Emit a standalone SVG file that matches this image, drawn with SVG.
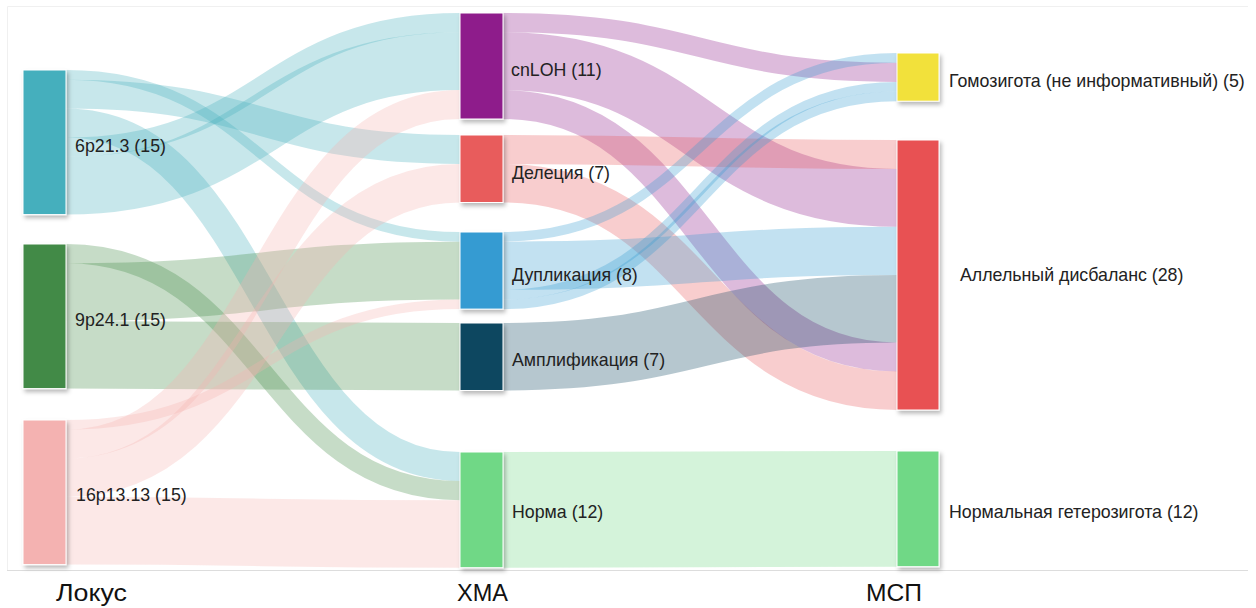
<svg xmlns="http://www.w3.org/2000/svg" width="1256" height="608" viewBox="0 0 1256 608">
<style>
.lnk{fill:none;stroke-opacity:0.3}
.t{stroke:#45AFBD}.g{stroke:#438A46}.p{stroke:#F4B2B1}
.pu{stroke:#8E1F8B}.r{stroke:#E85B5C}.b{stroke:#369BD2}.n{stroke:#0E4760}.gr{stroke:#6FD886}
.node{stroke:#ffffff;stroke-width:1;filter:url(#sh)}
.lbl{font-family:"Liberation Sans",Arial,sans-serif;font-size:17.8px;fill:#222}
.ax{font-family:"Liberation Sans",Arial,sans-serif;font-size:24px;fill:#111}
</style>
<defs>
<filter id="sh" x="-30%" y="-10%" width="170%" height="130%">
<feDropShadow dx="2" dy="3" stdDeviation="2" flood-color="#000" flood-opacity="0.28"/>
</filter>
</defs>
<rect width="1256" height="608" fill="#fff"/>
<g id="frame" stroke-width="1" fill="none">
<path d="M7.5 570.5V6.5H1248" stroke="#f0f0f0"/>
<path d="M7 570.5H1248" stroke="#dddddd"/>
</g>
<g id="connectors">
<path class="lnk t" stroke-width="9.64" d="M66 74.82C263 74.82 263 236.82 460 236.82"/>
<path class="lnk t" stroke-width="28.92" d="M66 94.1C263 94.1 263 149.46 460 149.46"/>
<path class="lnk t" stroke-width="28.92" d="M66 123.02C263 123.02 263 466.46 460 466.46"/>
<path class="lnk t" stroke-width="19.28" d="M66 147.12C263 147.12 263 22.64 460 22.64"/>
<path class="lnk t" stroke-width="57.84" d="M66 185.68C263 185.68 263 61.2 460 61.2"/>
<path class="lnk g" stroke-width="19.28" d="M66 253.64C263 253.64 263 490.56 460 490.56"/>
<path class="lnk g" stroke-width="57.84" d="M66 292.2C263 292.2 263 270.56 460 270.56"/>
<path class="lnk g" stroke-width="67.48" d="M66 354.86C263 354.86 263 356.74 460 356.74"/>
<path class="lnk p" stroke-width="9.64" d="M66 424.82C263 424.82 263 304.3 460 304.3"/>
<path class="lnk p" stroke-width="28.92" d="M66 444.1C263 444.1 263 104.58 460 104.58"/>
<path class="lnk p" stroke-width="38.56" d="M66 477.84C263 477.84 263 183.2 460 183.2"/>
<path class="lnk p" stroke-width="67.48" d="M66 530.86C263 530.86 263 533.94 460 533.94"/>
<path class="lnk pu" stroke-width="19.28" d="M503 22.64C700 22.64 700 72.28 897 72.28"/>
<path class="lnk pu" stroke-width="57.84" d="M503 61.2C700 61.2 700 197.84 897 197.84"/>
<path class="lnk pu" stroke-width="28.92" d="M503 104.58C700 104.58 700 356.94 897 356.94"/>
<path class="lnk r" stroke-width="28.92" d="M503 149.46C700 149.46 700 154.46 897 154.46"/>
<path class="lnk r" stroke-width="38.56" d="M503 183.2C700 183.2 700 390.64 897 390.64"/>
<path class="lnk b" stroke-width="9.64" d="M503 236.82C700 236.82 700 57.82 897 57.82"/>
<path class="lnk b" stroke-width="48.2" d="M503 265.74C700 265.74 700 250.86 897 250.86"/>
<path class="lnk b" stroke-width="9.64" d="M503 294.66C700 294.66 700 86.74 897 86.74"/>
<path class="lnk b" stroke-width="9.64" d="M503 304.3C700 304.3 700 96.38 897 96.38"/>
<path class="lnk n" stroke-width="67.48" d="M503 356.74C700 356.74 700 308.7 897 308.7"/>
<path class="lnk gr" stroke-width="115.68" d="M503 509.84C700 509.84 700 508.84 897 508.84"/>
</g>
<g id="n-6p21-3"><rect class="node" x="23" y="70" width="43" height="144.6" fill="#45AFBD"/><text class="lbl" x="75" y="152">6p21.3 (15)</text></g>
<g id="n-9p24-1"><rect class="node" x="23" y="244" width="43" height="144.6" fill="#438A46"/><text class="lbl" x="75" y="326">9p24.1 (15)</text></g>
<g id="n-16p13-13"><rect class="node" x="23" y="420" width="43" height="144.6" fill="#F4B2B1"/><text class="lbl" x="76" y="501">16p13.13 (15)</text></g>
<g id="n-cnloh"><rect class="node" x="460" y="13" width="43" height="106" fill="#8E1F8B"/><text class="lbl" x="511" y="76">cnLOH (11)</text></g>
<g id="n-del"><rect class="node" x="460" y="135" width="43" height="67.5" fill="#E85B5C"/><text class="lbl" x="512" y="179">Делеция (7)</text></g>
<g id="n-dup"><rect class="node" x="460" y="232" width="43" height="77.1" fill="#369BD2"/><text class="lbl" x="512" y="280.5">Дупликация (8)</text></g>
<g id="n-amp"><rect class="node" x="460" y="323" width="43" height="67.5" fill="#0E4760"/><text class="lbl" x="512" y="366">Амплификация (7)</text></g>
<g id="n-norm"><rect class="node" x="460" y="452" width="43" height="115.7" fill="#6FD886"/><text class="lbl" x="512" y="518">Норма (12)</text></g>
<g id="n-homo"><rect class="node" x="897" y="53" width="42" height="48.2" fill="#F2E13A"/><text class="lbl" x="949" y="87">Гомозигота (не информативный) (5)</text></g>
<g id="n-ai"><rect class="node" x="897" y="140" width="42" height="270" fill="#E85152"/><text class="lbl" x="960" y="281">Аллельный дисбаланс (28)</text></g>
<g id="n-het"><rect class="node" x="897" y="451" width="42" height="115.7" fill="#6FD886"/><text class="lbl" x="949" y="518">Нормальная гетерозигота (12)</text></g>
<g id="axis-titles">
<text class="ax" x="56" y="601" textLength="71" lengthAdjust="spacingAndGlyphs">Локус</text>
<text class="ax" x="457" y="601" textLength="51" lengthAdjust="spacingAndGlyphs">ХМА</text>
<text class="ax" x="866" y="601" textLength="56" lengthAdjust="spacingAndGlyphs">МСП</text>
</g>
</svg>
